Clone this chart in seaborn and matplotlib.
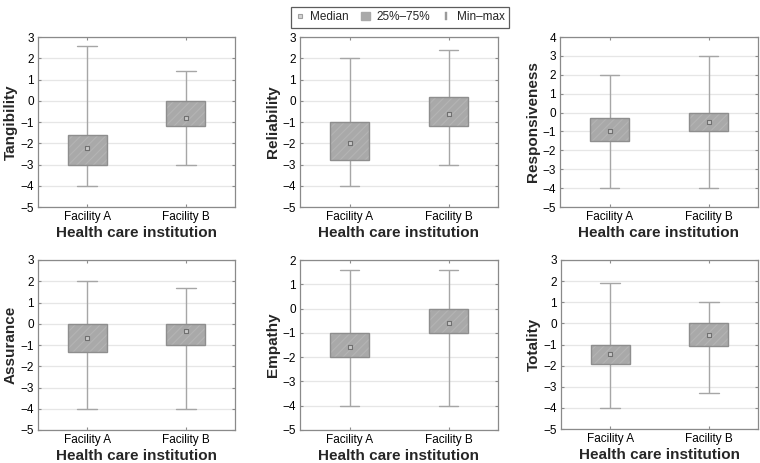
import numpy as np
import pandas as pd
import matplotlib
matplotlib.use("Agg")
import matplotlib.pyplot as plt
from matplotlib.lines import Line2D
from matplotlib.patches import Patch
from matplotlib.colors import to_rgba
import seaborn as sns

# ---- data ----
facilities = ["Facility A", "Facility B"]
panels = ["Tangibility", "Reliability", "Responsiveness", "Assurance", "Empathy", "Totality"]
# [min, q1, median, q3, max] per facility
tangibility_a = [-4.0, -3.0, -2.2, -1.6, 2.6]
tangibility_b = [-3.0, -1.2, -0.8, 0.0, 1.4]
reliability_a = [-4.0, -2.8, -2.0, -1.0, 2.0]
reliability_b = [-3.0, -1.2, -0.6, 0.2, 2.4]
responsiveness_a = [-4.0, -1.5, -1.0, -0.3, 2.0]
responsiveness_b = [-4.0, -1.0, -0.5, 0.0, 3.0]
assurance_a = [-4.0, -1.33, -0.67, 0.0, 2.0]
assurance_b = [-4.0, -1.0, -0.33, 0.0, 1.67]
empathy_a = [-4.0, -2.0, -1.6, -1.0, 1.6]
empathy_b = [-4.0, -1.0, -0.6, 0.0, 1.6]
totality_a = [-4.0, -1.9, -1.45, -1.0, 1.92]
totality_b = [-3.3, -1.05, -0.55, 0.0, 1.0]
y_tops = [3, 3, 4, 3, 2, 3]
y_bottom = -5
x_label = "Health care institution"
legend_labels = ["Median", "25%\u201375%", "Min\u2013max"]

series = {
    "Tangibility": (tangibility_a, tangibility_b),
    "Reliability": (reliability_a, reliability_b),
    "Responsiveness": (responsiveness_a, responsiveness_b),
    "Assurance": (assurance_a, assurance_b),
    "Empathy": (empathy_a, empathy_b),
    "Totality": (totality_a, totality_b),
}

sns.set_theme(style="white")
plt.rcParams["font.family"] = ["Liberation Sans", "DejaVu Sans"]
plt.rcParams["hatch.linewidth"] = 0.8

BOX_FILL = "#a9a9a9"
BOX_EDGE = "#8e8e8e"
HATCH = "#b4b4b4"
WHISK = "#a6a6a6"
SPINE = "#8a8a8a"
GRID = "#e6e6e6"

fig = plt.figure(figsize=(7.6, 4.63), dpi=100)
W, H = 760.0, 463.0
# axes rectangles in pixels: left, top, right, bottom
rects = [
    (38, 37, 235, 207), (300, 37, 498, 207), (560, 37, 758, 207),
    (38, 260, 235, 430), (300, 260, 498, 430), (561, 260, 758, 429),
]

for name, (l, t, r, b), ytop in zip(panels, rects, y_tops):
    ax = fig.add_axes([l / W, 1 - b / H, (r - l) / W, (b - t) / H])
    va, vb = series[name]
    df = pd.DataFrame({
        "facility": [facilities[0]] * len(va) + [facilities[1]] * len(vb),
        "value": list(va) + list(vb),
    })
    sns.boxplot(
        data=df, x="facility", y="value", ax=ax, order=facilities,
        whis=(0, 100), width=0.4, color=BOX_FILL, saturation=1,
        linecolor=WHISK, linewidth=1.0, showfliers=False,
        boxprops=dict(facecolor=BOX_FILL, edgecolor=BOX_EDGE, linewidth=1.0, zorder=3),
        whiskerprops=dict(color=WHISK, linewidth=1.0, zorder=2),
        capprops=dict(color=WHISK, linewidth=1.0, zorder=2),
        medianprops=dict(linewidth=0, alpha=0),
    )
    for p in ax.patches:
        p.set_hatch("////")
        p._hatch_color = to_rgba(HATCH)
        p.set_zorder(3)
    meds = pd.DataFrame({"facility": facilities, "median": [va[2], vb[2]]})
    sns.stripplot(
        data=meds, x="facility", y="median", ax=ax, order=facilities,
        jitter=False, marker="s", size=3.2, color="#c8c8c8",
        edgecolor="#707070", linewidth=0.8, zorder=5,
    )
    ax.set_ylim(y_bottom, ytop)
    ax.set_xlim(-0.5, 1.5)
    ax.set_yticks(np.arange(y_bottom, ytop + 1, 1))
    ax.set_yticklabels([str(v).replace("-", "\u2212") for v in np.arange(y_bottom, ytop + 1, 1)])
    ax.yaxis.grid(True, color=GRID, linewidth=0.9, zorder=0)
    ax.set_axisbelow(True)
    for s in ax.spines.values():
        s.set_visible(True)
        s.set_color(SPINE)
        s.set_linewidth(0.9)
    ax.tick_params(axis="both", which="both", direction="in", length=2.5, width=0.8,
                   color=SPINE, labelsize=8.5, labelcolor="black", pad=3,
                   top=True, right=True, bottom=True, left=True)
    ax.set_xlabel(x_label, fontsize=11, fontweight="bold", labelpad=2)
    ax.set_ylabel(name, fontsize=11, fontweight="bold", labelpad=2)

handles = [
    Line2D([], [], linestyle="none", marker="s", markersize=3.2,
           markerfacecolor="#d4d4d4", markeredgecolor="#a0a0a0", markeredgewidth=0.8),
    Patch(facecolor=BOX_FILL, edgecolor=BOX_FILL),
    Line2D([], [], linestyle="none", marker="$\\mathrm{I}$", markersize=6,
           color="#9a9a9a", markeredgewidth=0.3),
]
leg = fig.legend(handles, legend_labels, loc="upper center", bbox_to_anchor=(400 / W, 0.997),
                 ncol=3, frameon=True, fontsize=8.5, handlelength=0.8, handleheight=0.7,
                 handletextpad=0.5, columnspacing=1.0, borderpad=0.35, fancybox=False)
leg.get_frame().set_edgecolor("#333333")
leg.get_frame().set_linewidth(0.9)

fig.savefig("out.png", dpi=100)
